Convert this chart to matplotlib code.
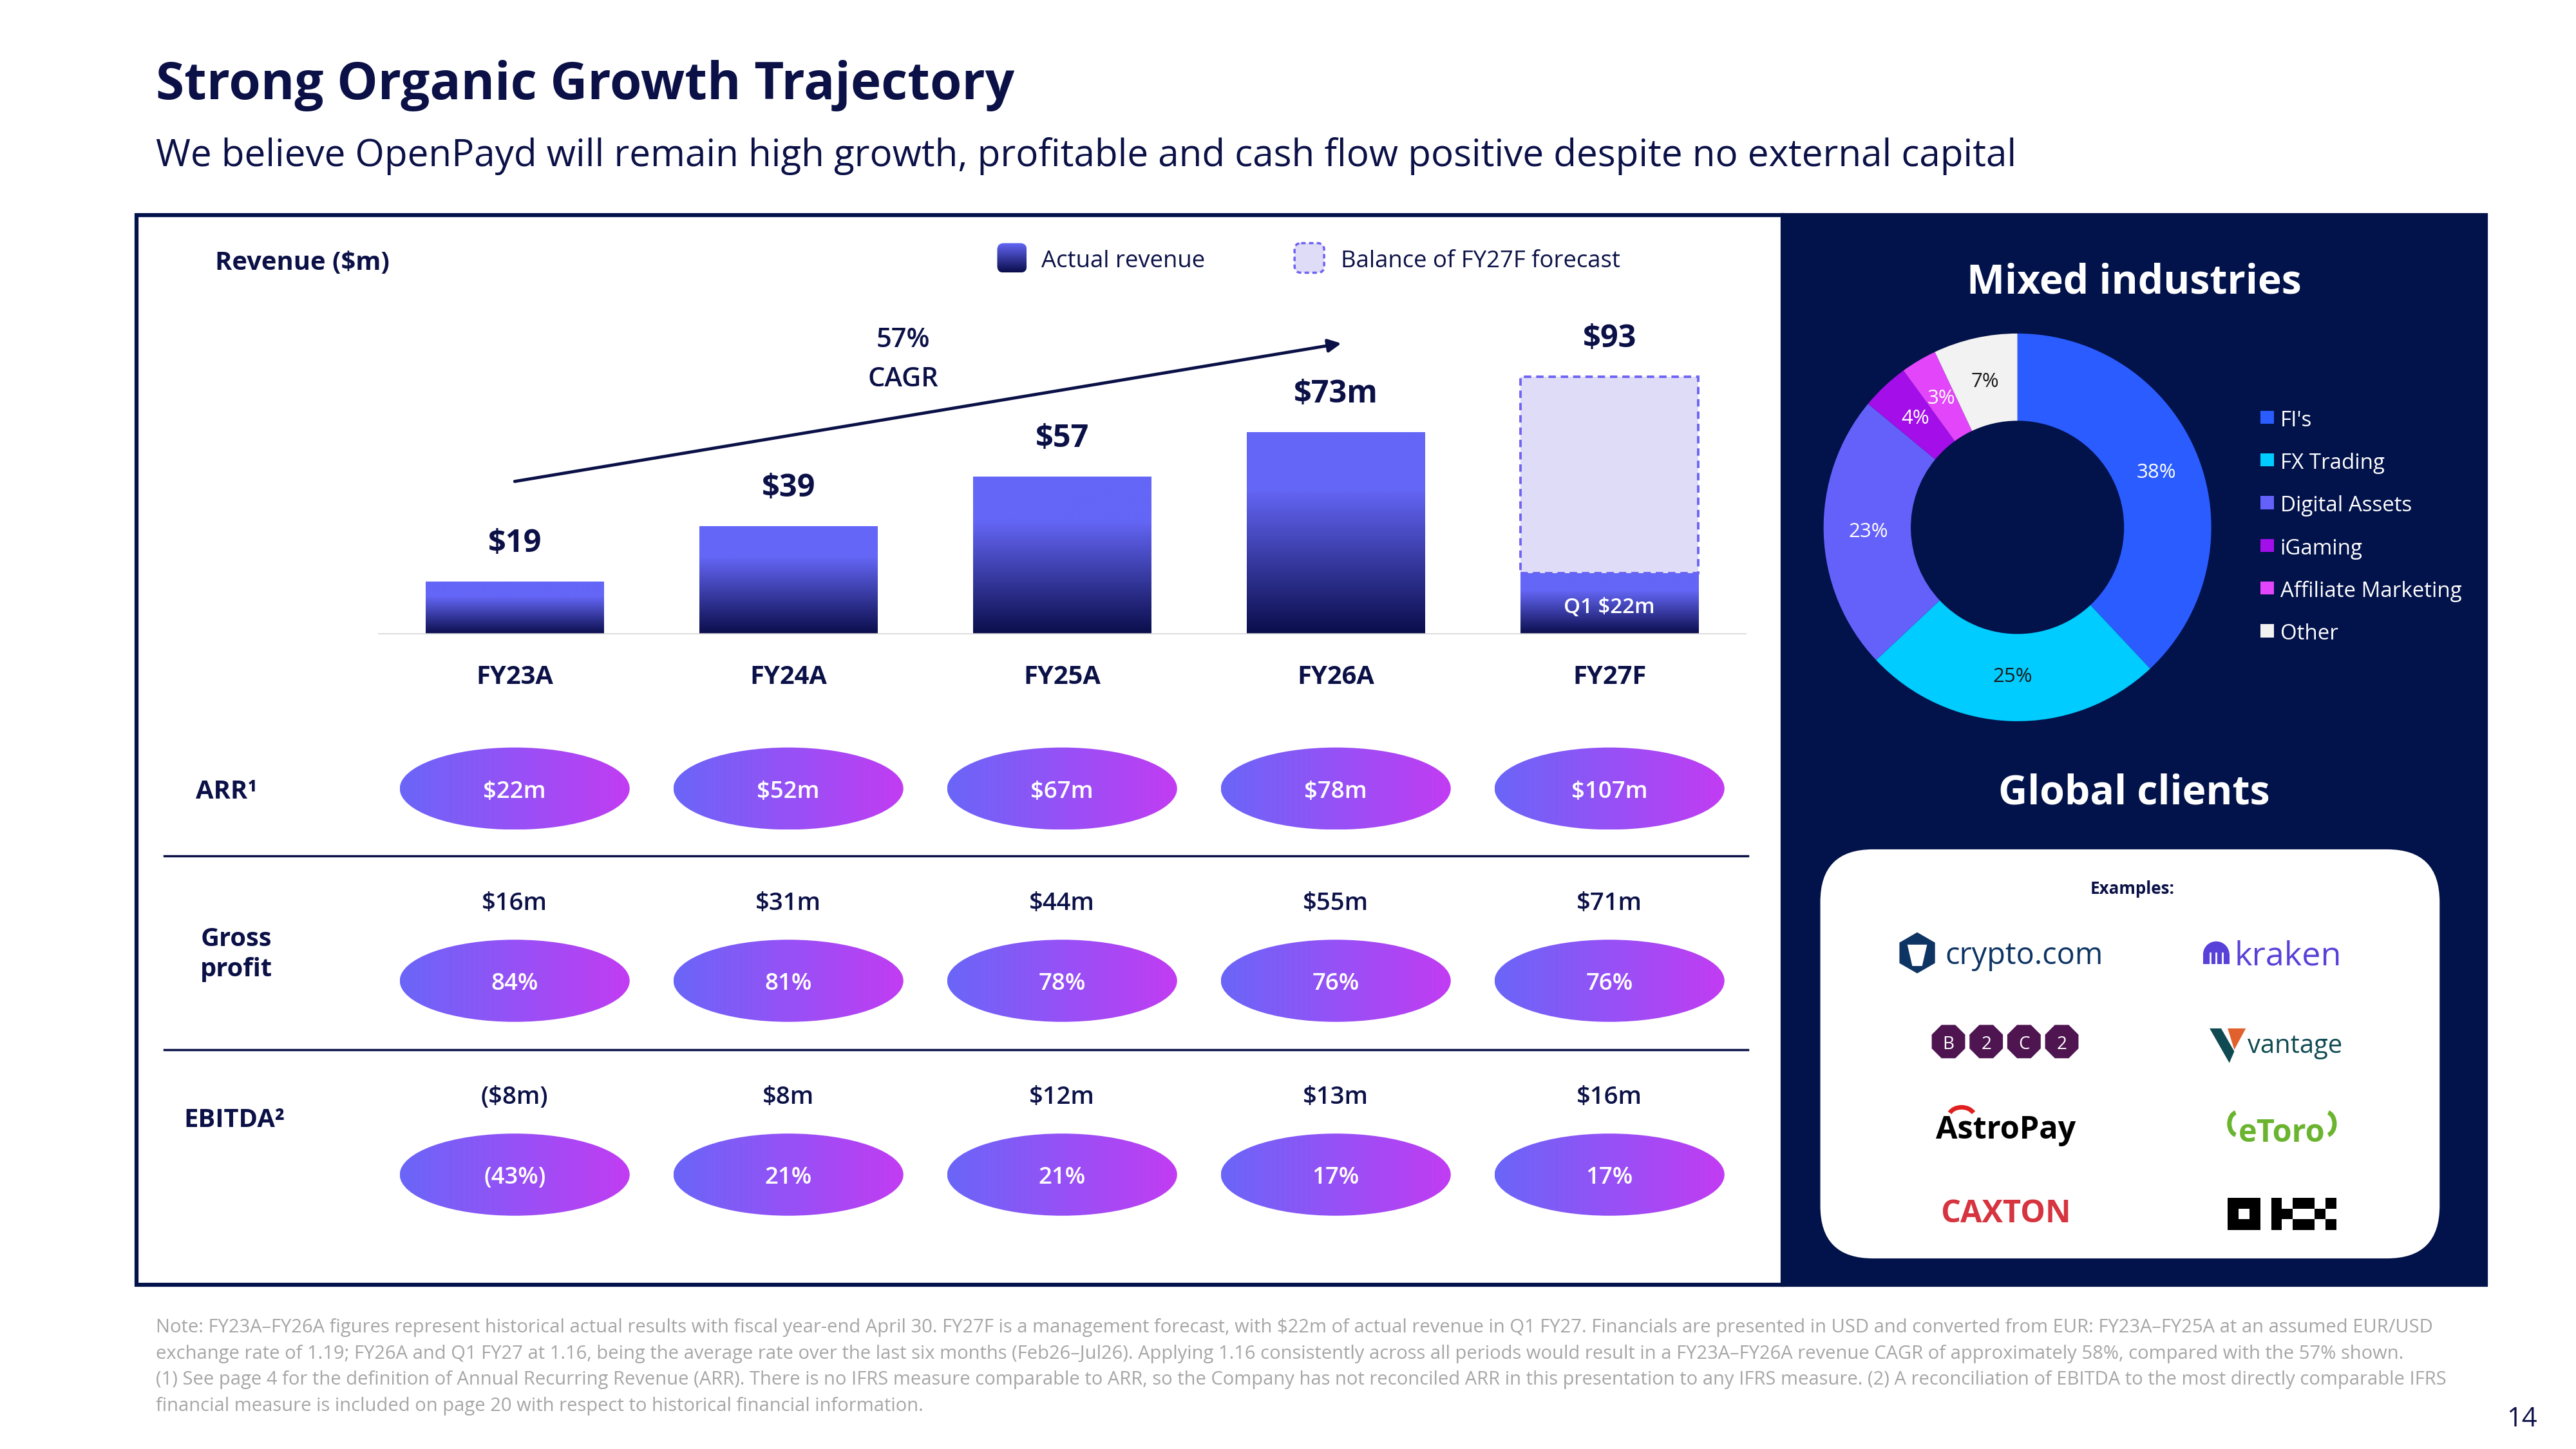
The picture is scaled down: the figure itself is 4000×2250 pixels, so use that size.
import numpy as np
import matplotlib
matplotlib.use("Agg")
import matplotlib.pyplot as plt
from matplotlib.patches import Rectangle, Ellipse, FancyBboxPatch, RegularPolygon, Polygon, Wedge, Arc
from matplotlib.colors import to_rgb

plt.rcParams['font.family'] = ['Open Sans', 'DejaVu Sans']
plt.rcParams['text.parse_math'] = False

# ---- data ----
years = ['FY23A', 'FY24A', 'FY25A', 'FY26A', 'FY27F']
revenue = [19, 39, 57, 73, 22]          # actual revenue ($m), FY27F = Q1 actual
fy27_forecast = 93
rev_labels = ['$19', '$39', '$57', '$73m', '$93']
cagr_label = ['57%', 'CAGR']
arr = [22, 52, 67, 78, 107]
gross_profit = [16, 31, 44, 55, 71]
gross_margin = [84, 81, 78, 76, 76]
ebitda = [-8, 8, 12, 13, 16]
ebitda_margin = [-43, 21, 21, 17, 17]

industries = ["FI's", 'FX Trading', 'Digital Assets', 'iGaming', 'Affiliate Marketing', 'Other']
industry_share = [38, 25, 23, 4, 3, 7]
industry_colors = ['#2a5cff', '#00ccff', '#6461fb', '#a30ee9', '#e245fa', '#f2f2f2']
industry_text = ['white', '#1a1a1a', 'white', 'white', 'white', '#1a1a1a']

footnote = [
    "Note: FY23A\u2013FY26A figures represent historical actual results with fiscal year-end April 30. FY27F is a management forecast, with $22m of actual revenue in Q1 FY27. Financials are presented in USD and converted from EUR: FY23A\u2013FY25A at an assumed EUR/USD",
    "exchange rate of 1.19; FY26A and Q1 FY27 at 1.16, being the average rate over the last six months (Feb26\u2013Jul26). Applying 1.16 consistently across all periods would result in a FY23A\u2013FY26A revenue CAGR of approximately 58%, compared with the 57% shown.",
    "(1) See page 4 for the definition of Annual Recurring Revenue (ARR). There is no IFRS measure comparable to ARR, so the Company has not reconciled ARR in this presentation to any IFRS measure. (2) A reconciliation of EBITDA to the most directly comparable IFRS",
    "financial measure is included on page 20 with respect to historical financial information.",
]

NAVY = '#0b1147'
PANEL = '#02124a'
PERI = np.array(to_rgb('#6466f6'))
DEEP = np.array(to_rgb('#0a0d4a'))
BUB_L = np.array(to_rgb('#6a66f8'))
BUB_R = np.array(to_rgb('#c23cf3'))

W, H = 1568, 882
DY = 2          # text vertical nudge (px)
PX = 1.684      # px per $m on the bar chart


def fig_rect(x0, y0, x1, y1):
    return [x0 / W, 1 - y1 / H, (x1 - x0) / W, (y1 - y0) / H]


def gradient(ax, patch, c0, c1, extent, horizontal=False, ramp=1.0, origin='lower'):
    t = np.clip(np.linspace(0, 1, 256) / ramp, 0, 1)
    cols = c0 + (c1 - c0) * t[:, None]
    img = cols[None, :, :] if horizontal else cols[:, None, :]
    im = ax.imshow(img, extent=extent, origin=origin, aspect='auto',
                   interpolation='bilinear', zorder=patch.get_zorder())
    im.set_clip_path(patch)


def txt(x, y, s, **kw):
    kw.setdefault('va', 'center')
    kw.setdefault('zorder', 3)
    return cv.text(x, y + DY, s, **kw)


fig = plt.figure(figsize=(16, 9), dpi=250)
cv = fig.add_axes([0, 0, 1, 1])
cv.set_xlim(0, W)
cv.set_ylim(H, 0)
cv.axis('off')

# ---- headings ----
txt(95, 50, 'Strong Organic Growth Trajectory', fontsize=23, fontweight='bold', color=NAVY)
txt(95, 93, 'We believe OpenPayd will remain high growth, profitable and cash flow positive despite no external capital',
    fontsize=16.8, color=NAVY)

# ---- panels ----
cv.add_patch(Rectangle((1085, 131), 428, 651, facecolor=PANEL, edgecolor=PANEL, lw=1.8, zorder=1))
cv.add_patch(Rectangle((83, 131), 1002, 651, facecolor='white', edgecolor=PANEL, lw=1.8, zorder=1))

txt(131, 158, 'Revenue ($m)', fontsize=11.5, fontweight='bold', color=NAVY)

# legend
leg_a = FancyBboxPatch((607, 148), 18, 18, boxstyle='round,pad=0,rounding_size=4', facecolor='none', edgecolor='none', zorder=3)
cv.add_patch(leg_a)
gradient(cv, leg_a, PERI, DEEP, (607, 625, 166, 148), ramp=1.0, origin='upper')
txt(634, 157, 'Actual revenue', fontsize=10.5, color=NAVY)
cv.add_patch(FancyBboxPatch((788, 148), 18, 18, boxstyle='round,pad=0,rounding_size=4', facecolor='#dfdcf8',
                            edgecolor='#6c63f2', lw=1, linestyle=(0, (2, 1.5)), zorder=3))
txt(816, 157, 'Balance of FY27F forecast', fontsize=10.5, color=NAVY)

# ---- revenue bars ----
ymax = 110
ax = fig.add_axes(fig_rect(230, 386 - ymax * PX, 1063, 386))
ax.patch.set_alpha(0)
ax.axis('off')
x = np.arange(len(years))
bw = 0.65
bars = ax.bar(x, revenue, width=bw, facecolor='none', edgecolor='none', zorder=3)
for b in bars:
    x0, h = b.get_x(), b.get_height()
    gradient(ax, b, DEEP, PERI, (x0, x0 + bw, 0, h), ramp=0.72)
ax.bar(x[-1], fy27_forecast - revenue[-1], bottom=revenue[-1], width=bw, facecolor='#dfdcf8',
       edgecolor='#6c63f2', lw=1.1, linestyle=(0, (3, 2)), zorder=2)
ax.axhline(0, color='#d9d9d9', lw=1.3, zorder=4)
tops = revenue[:-1] + [fy27_forecast]
d = DY / PX
for i, (t, lab) in enumerate(zip(tops, rev_labels)):
    ax.text(i, t + 14.8 - d, lab, ha='center', va='center', fontsize=14, fontweight='bold', color=NAVY)
    ax.text(i, -14.3 - d, years[i], ha='center', va='center', fontsize=11.5, fontweight='bold', color=NAVY, clip_on=False)
ax.text(x[-1], revenue[-1] / 2 - 0.3 - d, 'Q1 $22m', ha='center', va='center', fontsize=9.5, fontweight='semibold', color='white', zorder=5)
ax.annotate('', xy=(3.02, 105.1), xytext=(0, 55.2),
            arrowprops=dict(arrowstyle='-|>', color=NAVY, lw=1.4, mutation_scale=12, shrinkA=0, shrinkB=0))
ax.text(1.42, 107.5 - d, cagr_label[0], ha='center', va='center', fontsize=12, fontweight='semibold', color=NAVY)
ax.text(1.42, 93.3 - d, cagr_label[1], ha='center', va='center', fontsize=12, fontweight='semibold', color=NAVY)
ax.set_xlim(-0.5, len(years) - 0.5)
ax.set_ylim(0, ymax)

# ---- KPI rows ----
bx = fig.add_axes(fig_rect(230, 440, 1063, 770))
bx.patch.set_alpha(0)
bx.axis('off')


def money(v):
    return f'(${-v}m)' if v < 0 else f'${v}m'


def pct(v):
    return f'({-v}%)' if v < 0 else f'{v}%'


rows = [
    (480, None, [money(v) for v in arr]),
    (597, (548, [money(v) for v in gross_profit]), [pct(v) for v in gross_margin]),
    (715, (666, [money(v) for v in ebitda]), [pct(v) for v in ebitda_margin]),
]
for yc, above, labels in rows:
    for i, lab in enumerate(labels):
        e = Ellipse((i, yc), 0.84, 50, facecolor='none', edgecolor='none', zorder=3)
        bx.add_patch(e)
        gradient(bx, e, BUB_L, BUB_R, (i - 0.42, i + 0.42, yc + 25, yc - 25), horizontal=True)
        bx.text(i, yc + DY, lab, ha='center', va='center', fontsize=10.5, fontweight='semibold', color='white', zorder=5)
        if above:
            bx.text(i, above[0] + DY, above[1][i], ha='center', va='center', fontsize=11, fontweight='semibold', color=NAVY)
bx.set_xlim(-0.5, len(years) - 0.5)
bx.set_ylim(770, 440)

txt(119, 480, 'ARR\u00b9', fontsize=11.5, fontweight='bold', color=NAVY)
txt(122, 579, 'Gross\nprofit', fontsize=11.5, fontweight='bold', color=NAVY, linespacing=1.25)
txt(112, 680, 'EBITDA\u00b2', fontsize=11.5, fontweight='bold', color=NAVY)
for yl in (521, 639):
    cv.plot([100, 1064], [yl, yl], color=NAVY, lw=1, zorder=3)

# ---- donut ----
txt(1299, 170, 'Mixed industries', fontsize=18, fontweight='bold', color='white', ha='center')
R = 118
dx = fig.add_axes(fig_rect(1228 - R, 321 - R, 1228 + R, 321 + R))
wedges, _, autotexts = dx.pie(industry_share, colors=industry_colors, startangle=90, counterclock=False,
                              radius=1, wedgeprops=dict(width=0.45, linewidth=0),
                              autopct='%d%%', pctdistance=0.77, textprops=dict(fontsize=9))
for t, c in zip(autotexts, industry_text):
    t.set_color(c)
dx.set_xlim(-1, 1)
dx.set_ylim(-1, 1)
dx.set_aspect('equal')

for k, (name, col) in enumerate(zip(industries, industry_colors)):
    yy = 254 + 26 * k
    cv.add_patch(Rectangle((1376, yy - 4), 8, 8, facecolor=col, edgecolor='none', zorder=3))
    txt(1388, yy, name, fontsize=9.5, color='white')

# ---- clients ----
txt(1299, 481, 'Global clients', fontsize=18, fontweight='bold', color='white', ha='center')
cv.add_patch(FancyBboxPatch((1108, 517), 377, 249, boxstyle='round,pad=0,rounding_size=32',
                            facecolor='white', edgecolor='none', zorder=2))
txt(1298, 539, 'Examples:', fontsize=7.5, fontweight='bold', color=NAVY, ha='center')

# crypto.com
cv.add_patch(RegularPolygon((1167, 580), 6, radius=12.5, orientation=0, facecolor='#0e3464', zorder=3))
cv.add_patch(Polygon([(1161, 575), (1173, 575), (1170, 588), (1164, 588)], closed=True, facecolor='white', zorder=4))
txt(1184, 580, 'crypto.com', fontsize=13.5, color='#0e3464')
# kraken
cv.add_patch(Wedge((1349, 581), 8, 180, 360, facecolor='#5841d8', zorder=3))
cv.add_patch(Rectangle((1341, 580.5), 16, 6.5, facecolor='#5841d8', zorder=3))
for xl in (1345.3, 1349, 1352.7):
    cv.plot([xl, xl], [580, 587.5], color='white', lw=0.8, zorder=4)
txt(1360, 580, 'kraken', fontsize=15, color='#5841d8')
# B2C2
for k, ch in enumerate('B2C2'):
    xc = 1186 + 23 * k
    cv.add_patch(RegularPolygon((xc, 634), 8, radius=11, orientation=np.pi / 8, facecolor='#4e1551', zorder=3))
    txt(xc, 634, ch, fontsize=8, color='white', ha='center', zorder=4)
# vantage
cv.add_patch(Polygon([(1345, 626), (1352, 626), (1360, 640), (1357, 647)], closed=True, facecolor='#0f4a52', zorder=3))
cv.add_patch(Polygon([(1356, 626), (1367, 626), (1360, 639)], closed=True, facecolor='#e0612b', zorder=3))
txt(1368, 635, 'vantage', fontsize=11.5, color='#0f4a52')
# AstroPay
txt(1221, 686, 'AstroPay', fontsize=14, fontweight='bold', color='black', ha='center')
cv.add_patch(Arc((1194, 680), 16, 12, theta1=200, theta2=340, color='#e02020', lw=2, zorder=4))
# eToro
txt(1389, 688, 'eToro', fontsize=14, fontweight='bold', color='#6bb42f', ha='center')
cv.add_patch(Arc((1362, 684), 10, 14, theta1=100, theta2=260, color='#6bb42f', lw=2, zorder=4))
cv.add_patch(Arc((1416, 684), 10, 14, theta1=-80, theta2=80, color='#6bb42f', lw=2, zorder=4))
# CAXTON
txt(1221, 737, 'CAXTON', fontsize=14, fontweight='bold', color='#d6343f', ha='center')
# OKX
cell = 6.6
okx = [(c, r) for c in range(3) for r in range(3) if (c, r) != (1, 1)]
okx += [(4, 0), (4, 1), (4, 2), (5, 1), (6, 0), (6, 2)]
okx += [(7, 0), (9, 0), (8, 1), (7, 2), (9, 2)]
for c, r in okx:
    cv.add_patch(Rectangle((1356 + c * cell, 729 + r * cell), cell, cell, facecolor='black', edgecolor='none', zorder=3))

# ---- footnote ----
for k, line in enumerate(footnote):
    txt(95, 806 + 16 * k, line, fontsize=8.4, color='#a6a6a6', zorder=1)
txt(1535, 862, '14', fontsize=12, color=NAVY, ha='center')

fig.savefig('out.png', dpi=250)
